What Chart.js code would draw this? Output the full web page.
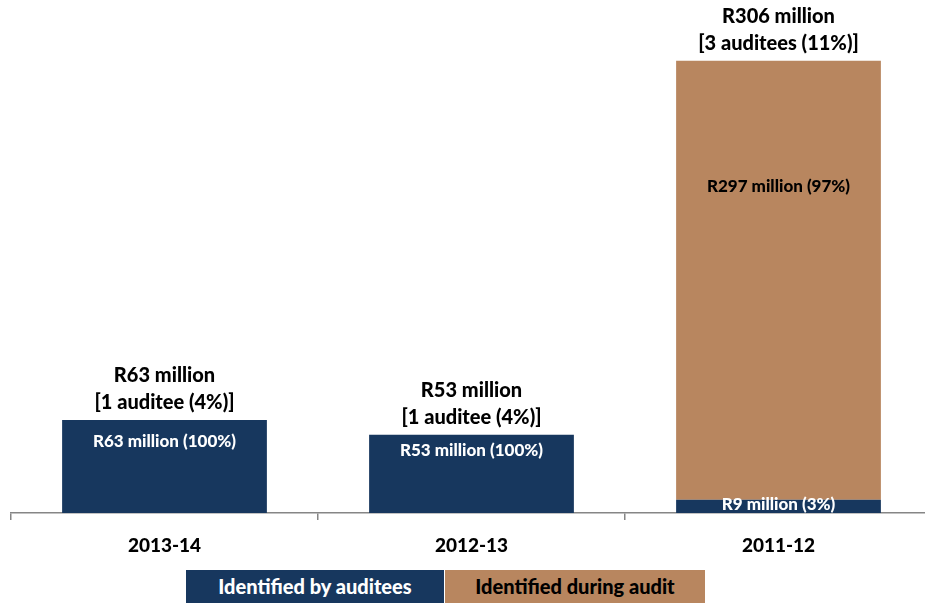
<!DOCTYPE html>
<html>
<head>
<meta charset="utf-8">
<script src="https://cdn.jsdelivr.net/npm/chart.js@4.4.1/dist/chart.umd.min.js"></script>
<style>
  html, body { margin: 0; padding: 0; background: #ffffff; overflow: hidden; width: 925px; height: 603px; }
  #wrap { position: relative; width: 940px; height: 603px; }
  #legend { position: absolute; left: 186px; top: 570px; height: 36px; display: flex; font-family: Lato, "Open Sans", sans-serif; font-weight: 900; font-size: 20px; }
  #legend div { height: 36px; line-height: 33px; text-align: center; }
</style>
</head>
<body>
<div id="wrap">
  <canvas id="c" width="940" height="603"></canvas>
  <div id="legend"></div>
</div>
<script>
// ---- data ----
const categories = ['2013-14', '2012-13', '2011-12'];
const seriesNames = ['Identified by auditees', 'Identified during audit'];
const identifiedByAuditees = [63, 53, 9];
const identifiedDuringAudit = [0, 0, 297];
const auditeeCounts = [1, 1, 3];
const auditeePercents = [4, 4, 11];

// ---- style ----
const NAVY = '#17375E';
const TAN = '#B8865F';
const FONT = 'Lato, "Open Sans", sans-serif';
const W = '900';
// vertical offset (px from segment top) for inner labels; null = centred
const innerLabelOffsets = [[22, 16, null], [null, null, 126]];

const totals = identifiedByAuditees.map((v, i) => v + identifiedDuringAudit[i]);

const legendEl = document.getElementById('legend');
[[NAVY, '#ffffff', 258], [TAN, '#000000', 260]].forEach((c, i) => {
  const d = document.createElement('div');
  d.style.background = c[0];
  d.style.color = c[1];
  d.style.width = c[2] + 'px';
  if (i === 1) d.style.borderLeft = '1px solid #ffffff';
  d.textContent = seriesNames[i];
  legendEl.appendChild(d);
});

const labelPlugin = {
  id: 'labels',
  afterDatasetsDraw(chart) {
    const ctx = chart.ctx;
    ctx.save();
    ctx.textAlign = 'center';
    ctx.textBaseline = 'middle';
    chart.data.datasets.forEach((ds, di) => {
      const meta = chart.getDatasetMeta(di);
      meta.data.forEach((bar, i) => {
        const v = ds.data[i];
        if (!v) return;
        const pct = Math.round(v / totals[i] * 100);
        const txt = 'R' + v + ' million (' + pct + '%)';
        const off = innerLabelOffsets[di][i];
        const y = off === null ? (bar.y + bar.base) / 2 - 2 : bar.y + off;
        ctx.font = W + ' 17px ' + FONT;
        ctx.fillStyle = di === 0 ? '#ffffff' : '#000000';
        ctx.fillText(txt, bar.x, y);
      });
    });
    const baseMeta = chart.getDatasetMeta(0);
    categories.forEach((c, i) => {
      const x = baseMeta.data[i].x;
      const yTop = chart.scales.y.getPixelForValue(totals[i]);
      ctx.font = W + ' 20px ' + FONT;
      ctx.fillStyle = '#000000';
      ctx.fillText('R' + totals[i] + ' million', x, yTop - 44);
      ctx.fillText('[' + auditeeCounts[i] + ' auditee' + (auditeeCounts[i] > 1 ? 's' : '') + ' (' + auditeePercents[i] + '%)]', x, yTop - 17);
    });
    ctx.restore();
  }
};

new Chart(document.getElementById('c'), {
  type: 'bar',
  data: {
    labels: categories,
    datasets: [
      { label: seriesNames[0], data: identifiedByAuditees, backgroundColor: NAVY, borderWidth: 0 },
      { label: seriesNames[1], data: identifiedDuringAudit, backgroundColor: TAN, borderWidth: 0 }
    ]
  },
  options: {
    responsive: false,
    animation: false,
    layout: { padding: { left: 11, right: 8, top: 40, bottom: 0 } },
    plugins: { legend: { display: false }, tooltip: { enabled: false } },
    datasets: { bar: { categoryPercentage: 1, barPercentage: 0.667 } },
    scales: {
      x: {
        stacked: true,
        offset: true,
        grid: { offset: true, drawOnChartArea: false, drawTicks: true, tickLength: 7, color: '#868686', lineWidth: 1.5 },
        border: { display: true, color: '#868686', width: 1.5 },
        ticks: { color: '#000000', font: { family: FONT, weight: W, size: 19 }, padding: 14 },
        afterFit(s) { s.height = 90; }
      },
      y: {
        stacked: true,
        display: false,
        min: 0,
        max: 320
      }
    }
  },
  plugins: [labelPlugin]
});
</script>
</body>
</html>
